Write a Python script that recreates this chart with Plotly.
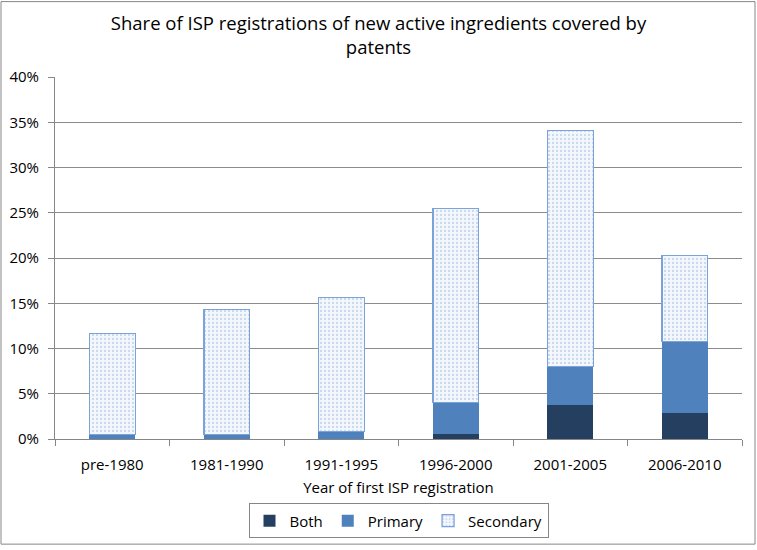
import plotly.graph_objects as go

categories = ["pre-1980", "1981-1990", "1991-1995", "1996-2000", "2001-2005", "2006-2010"]
both = [0.0, 0.0, 0.0, 0.55, 3.8, 2.9]
primary = [0.5, 0.5, 0.8, 3.5, 4.2, 7.9]
secondary = [11.15, 13.8, 14.8, 21.45, 26.1, 9.45]
y_ticks = [0, 5, 10, 15, 20, 25, 30, 35, 40]
y_tick_labels = [f"{v}%" for v in y_ticks]

FONT = "Open Sans"
L, R, T, B = 55, 15, 77, 108
W, H = 757, 550
pw, ph = W - L - R, H - T - B

fig = go.Figure()
fig.add_trace(go.Bar(name="Both", x=categories, y=both,
                     marker=dict(color="#243F60", line=dict(width=0))))
fig.add_trace(go.Bar(name="Primary", x=categories, y=primary,
                     marker=dict(color="#4F81BD", line=dict(width=0))))
fig.add_trace(go.Bar(name="Secondary", x=categories, y=secondary,
                     marker=dict(color="#FFFFFF",
                                 line=dict(color="#7BA3DA", width=1.3),
                                 pattern=dict(shape=".", fgcolor="#9DB7DE",
                                              bgcolor="#F4F7FC", size=4, solidity=0.25))))

def px_x(p):
    return (p - L) / pw

def px_y(p):
    return (H - B - p) / ph

fig.update_layout(
    width=W, height=H,
    barmode="stack",
    bargap=0.6,
    plot_bgcolor="white",
    paper_bgcolor="white",
    margin=dict(l=L, r=R, t=T, b=B, pad=0),
    font=dict(family=FONT, size=15, color="#000000"),
    title=dict(text="Share of ISP registrations of new active ingredients covered by<br>patents",
               x=0.5, xanchor="center", y=1 - 30 / H, yanchor="top",
               font=dict(family=FONT, size=18.5, color="#000000")),
    xaxis=dict(
        title=dict(text="Year of first ISP registration", font=dict(size=15), standoff=9),
        showline=True, linecolor="#868686", linewidth=1,
        ticks="outside", ticklen=6, tickcolor="#868686", tickson="boundaries",
        ticklabelstandoff=12,
        showgrid=False, automargin=False,
    ),
    yaxis=dict(
        range=[0, 40], tickvals=y_ticks, ticktext=y_tick_labels,
        showline=True, linecolor="#868686", linewidth=1,
        showgrid=True, gridcolor="#8C8C8C", gridwidth=1,
        ticks="outside", ticklen=6, tickcolor="#868686",
        ticklabelstandoff=6,
        zeroline=False, automargin=False,
    ),
    legend=dict(orientation="h", x=0.5, xanchor="center", y=px_y(507), yanchor="top",
                bordercolor="#868686", borderwidth=1, bgcolor="white",
                font=dict(size=15), traceorder="normal",
                itemwidth=30),
    shapes=[dict(type="rect", xref="paper", yref="paper",
                 x0=px_x(1), x1=px_x(W - 2), y0=px_y(H - 2), y1=px_y(1),
                 line=dict(color="#868686", width=1), layer="below")],
)

fig.write_html("out.html", config={"displayModeBar": False},
               post_script="document.body.style.margin='0';")
